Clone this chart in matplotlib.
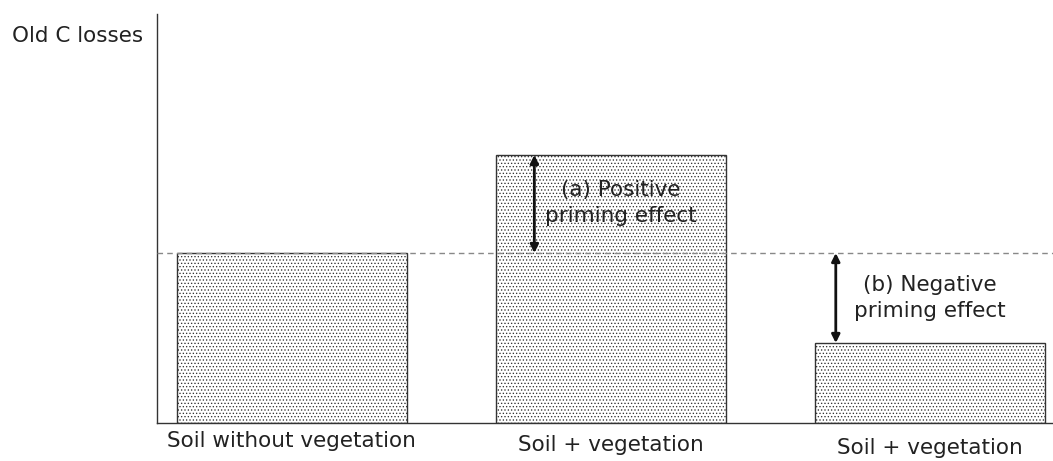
import matplotlib
matplotlib.use("Agg")
import matplotlib.pyplot as plt
from matplotlib.transforms import blended_transform_factory

# Old carbon losses (arbitrary units) for each treatment
categories = ["Soil without vegetation", "Soil + vegetation", "Soil + vegetation"]
losses = [1.70, 2.68, 0.80]
reference_level = losses[0]
effect_labels = ["(a) Positive\npriming effect", "(b) Negative\npriming effect"]

plt.rcParams["font.family"] = ["DejaVu Sans"]
plt.rcParams["hatch.color"] = "#555555"
plt.rcParams["hatch.linewidth"] = 0.55

fig = plt.figure(figsize=(10.53, 4.61), dpi=100)
ax = fig.add_axes([157 / 1053, 38 / 461, 896 / 1053, 409 / 461])

x = [0, 1, 2]
ax.bar(x, losses, width=0.72, facecolor="white", edgecolor="#333333",
       linewidth=1.0, hatch=".....", zorder=2)

# Reference level of the unplanted soil
ax.axhline(reference_level, color="#888888", linestyle=(0, (4, 3)),
           linewidth=1.0, zorder=3)

# Priming-effect arrows
arrow_style = dict(arrowstyle="<|-|>", color="#111111", lw=2.0,
                   mutation_scale=12, shrinkA=0, shrinkB=0)
ax.annotate("", xy=(x[1] - 0.24, losses[1]), xytext=(x[1] - 0.24, reference_level),
            arrowprops=arrow_style, zorder=4)
ax.annotate("", xy=(x[2] - 0.295, reference_level), xytext=(x[2] - 0.295, losses[2]),
            arrowprops=arrow_style, zorder=4)

ax.text(x[1] + 0.03, (losses[1] + reference_level) / 2 + 0.01, effect_labels[0],
        ha="center", va="center", fontsize=15.5, color="#222222",
        linespacing=1.33, zorder=5)
ax.text(x[2] + 0.0, (reference_level + losses[2]) / 2 + 0.0, effect_labels[1],
        ha="center", va="center", fontsize=15.5, color="#222222",
        linespacing=1.4, zorder=5)

ax.set_xlim(-0.423, 2.386)
ax.set_ylim(0, 4.09)

for side in ("top", "right"):
    ax.spines[side].set_visible(False)
for side in ("left", "bottom"):
    ax.spines[side].set_color("#333333")
    ax.spines[side].set_linewidth(1.0)
ax.set_xticks([])
ax.set_yticks([])

# Category labels under the axis, each at its own depth
trans = blended_transform_factory(ax.transData, ax.transAxes)
label_offsets = [-0.045, -0.053, -0.06]
for xi, lab, off in zip(x, categories, label_offsets):
    ax.text(xi, off, lab, transform=trans, ha="center", va="center",
            fontsize=15.5, color="#222222", clip_on=False)

fig.text(12 / 1053, 1 - 36 / 461, "Old C losses", ha="left", va="center",
         fontsize=15.5, color="#222222")

fig.savefig("out.png", dpi=100)
